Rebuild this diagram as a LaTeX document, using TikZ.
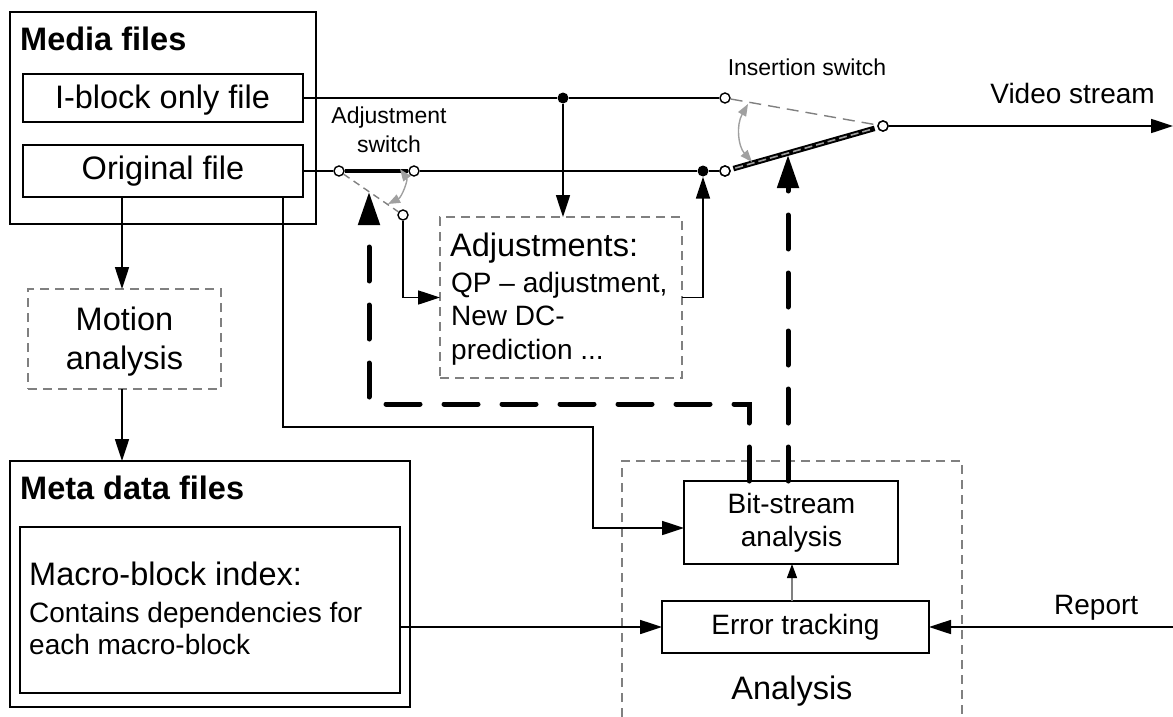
\documentclass[tikz,border=0pt]{standalone}
\usepackage{fontspec}
\setmainfont{Liberation Sans}
\usetikzlibrary{arrows.meta,calc}
\definecolor{dgray}{RGB}{128,128,128}
\definecolor{lgray}{RGB}{160,160,160}
\begin{document}
\begin{tikzpicture}[x=1pt,y=-1pt,
  ln/.style={line width=1.7pt},
  box/.style={draw,line width=1.8pt,inner sep=0pt,outer sep=0pt},
  dbox/.style={draw=dgray,line width=1.4pt,dash pattern=on 9pt off 6pt,inner sep=0pt,outer sep=0pt},
  arr/.style={line width=1.7pt,-{Triangle[length=22pt,width=14pt]}},
  sarr/.style={line width=1.2pt,draw=dgray,-{Triangle[length=14pt,width=10pt,fill=black,color=black]}},
  garr/.style={line width=1.4pt,draw=lgray,{Triangle[length=12pt,width=9pt]}-{Triangle[length=12pt,width=9pt]}},
  tdash/.style={line width=5pt,dash pattern=on 34pt off 24pt,line cap=round,-{Triangle[length=33pt,width=21pt]}},
  oc/.style={circle,draw,fill=white,inner sep=0pt,minimum size=10pt,line width=1.4pt},
  dot/.style={circle,fill=black,inner sep=0pt,minimum size=11pt},
  big/.style={font=\fontsize{32.5}{38}\selectfont,inner sep=0pt},
  bigb/.style={font=\fontsize{32.5}{38}\selectfont\bfseries,inner sep=0pt},
  med/.style={font=\fontsize{28}{33}\selectfont,inner sep=0pt},
  sml/.style={font=\fontsize{23}{27}\selectfont,inner sep=0pt}]
\useasboundingbox (0,0) rectangle (1173,717);

% boxes
\node[box,minimum width=306pt,minimum height=212pt] (media) at (163,118) {};
\node[box,minimum width=280pt,minimum height=48pt] (iblock) at (163,98) {};
\node[box,minimum width=280pt,minimum height=52pt] (orig) at (163,171) {};
\node[dbox,minimum width=193pt,minimum height=100pt] (motion) at (124.5,339) {};
\node[box,minimum width=400pt,minimum height=246pt] (meta) at (210,584) {};
\node[box,minimum width=380pt,minimum height=166pt] (macro) at (210,610) {};
\node[dbox,minimum width=242pt,minimum height=161pt] (adj) at (561,297.5) {};
\node[box,minimum width=214pt,minimum height=83pt] (bits) at (791,522.5) {};
\node[box,minimum width=267pt,minimum height=52pt] (err) at (795.5,627) {};
\draw[draw=dgray,line width=1.4pt,dash pattern=on 9pt off 6pt] (622,717) -- (622,461) -- (962,461) -- (962,717);

% texts
\node[bigb,anchor=base west] (tmedia) at (20,51) {Media files};
\node[big,anchor=base] (tib) at (162.5,108) {I-block only file};
\node[big,anchor=base] (tor) at (163,179) {Original file};
\node[big,anchor=base] (tmo1) at (124.5,330) {Motion};
\node[big,anchor=base] (tmo2) at (124.5,369) {analysis};
\node[bigb,anchor=base west] (tmeta) at (20,499) {Meta data files};
\node[big,anchor=base west] (tmb1) at (29,585) {Macro-block index:};
\node[med,anchor=base west] (tmb2) at (29,622) {Contains dependencies for};
\node[med,anchor=base west] (tmb3) at (29,654) {each macro-block};
\node[big,anchor=base west] (tad1) at (450,256) {Adjustments:};
\node[med,anchor=base west] (tad2) at (451,292) {QP -- adjustment,};
\node[med,anchor=base west] (tad3) at (451,325) {New DC-};
\node[med,anchor=base west] (tad4) at (451,359) {prediction ...};
\node[med,anchor=base] (tbs1) at (791.5,513) {Bit-stream};
\node[med,anchor=base] (tbs2) at (791.5,546) {analysis};
\node[med,anchor=base] (terr) at (795.5,634) {Error tracking};
\node[big,anchor=base] (tana) at (792,699) {Analysis};
\node[sml,anchor=base] (tas1) at (389,123) {Adjustment};
\node[sml,anchor=base] (tas2) at (389,152) {switch};
\node[sml,anchor=base] (tins) at (807,75) {Insertion switch};
\node[med,anchor=base east] (tvid) at (1155,103) {Video stream};
\node[med,anchor=base west] (trep) at (1054,614) {Report};

% switch contacts
\node[oc] (a1) at (339,171) {};
\node[oc] (a2) at (414,171) {};
\node[oc] (a3) at (403,215) {};
\node[dot] (d1) at (563,98) {};
\node[dot] (d2) at (703,171) {};
\node[oc] (i1) at (725,98) {};
\node[oc] (i2) at (725,171) {};
\node[oc] (i3) at (883,126) {};

% coordinates
\coordinate (oA) at (283,427);
\coordinate (oB) at (593,427);
\coordinate (t1) at (749,404);
\coordinate (t2) at (369,404);
\coordinate (t3) at (369,192);
\coordinate (t4) at (788,155);
\coordinate (vs) at (1173,126);
\coordinate (rep) at (1173,627);

% signal lines
\draw[ln] (iblock.east) -- (d1) -- (i1);
\draw[ln] (orig.east) -- (a1);
\draw[line width=4.5pt] (a1) -- (a2);
\draw[ln] (a2) -- (d2) -- (i2);
\draw[draw=dgray,line width=1.4pt,dash pattern=on 7pt off 5pt] (a1) -- (a3);
\draw[arr] (a3) |- (adj.west);
\draw[arr] (d1) -- (d1 |- adj.north);
\draw[arr] (adj.east) -| (d2);
\draw[draw=dgray,line width=1.4pt,dash pattern=on 12pt off 7pt] (i1) -- (i3);
\draw[line width=5.5pt,shorten <=3pt,shorten >=3pt] (i2) -- (i3);
\draw[line width=1.6pt,draw=lgray,dash pattern=on 8pt off 4pt,shorten <=5pt,shorten >=5pt] (i2) -- (i3);
\node[oc] at (i2) {};
\node[oc] at (i3) {};
\draw[arr] (i3) -- (vs);

% gray rotation arrows
\draw[garr] (748,104) .. controls (736,125) and (738,146) .. (752,162);
\draw[garr] (400,169) .. controls (408,180) and (402,197) .. (388,204);

% analysis paths
\draw[arr] (orig.south -| oA) -- (oA) -- (oB) |- ($(bits.west)+(0,5.5)$);
\draw[arr] (orig.south -| 122,0) -- (motion.north -| 122,0);
\draw[arr] (motion.south -| 122,0) -- (meta.north -| 122,0);
\draw[arr] (macro.east |- err.west) -- (err.west);
\draw[arr] (rep) -- (err.east);
\draw[sarr] (792,601) -- (792,564);

% control (thick dashed) arrows
\draw[tdash] (bits.north -| t1) -- (t1) -- (t2) -- (t3);
\draw[tdash] (bits.north -| t4) -- (t4);
\end{tikzpicture}
\end{document}
